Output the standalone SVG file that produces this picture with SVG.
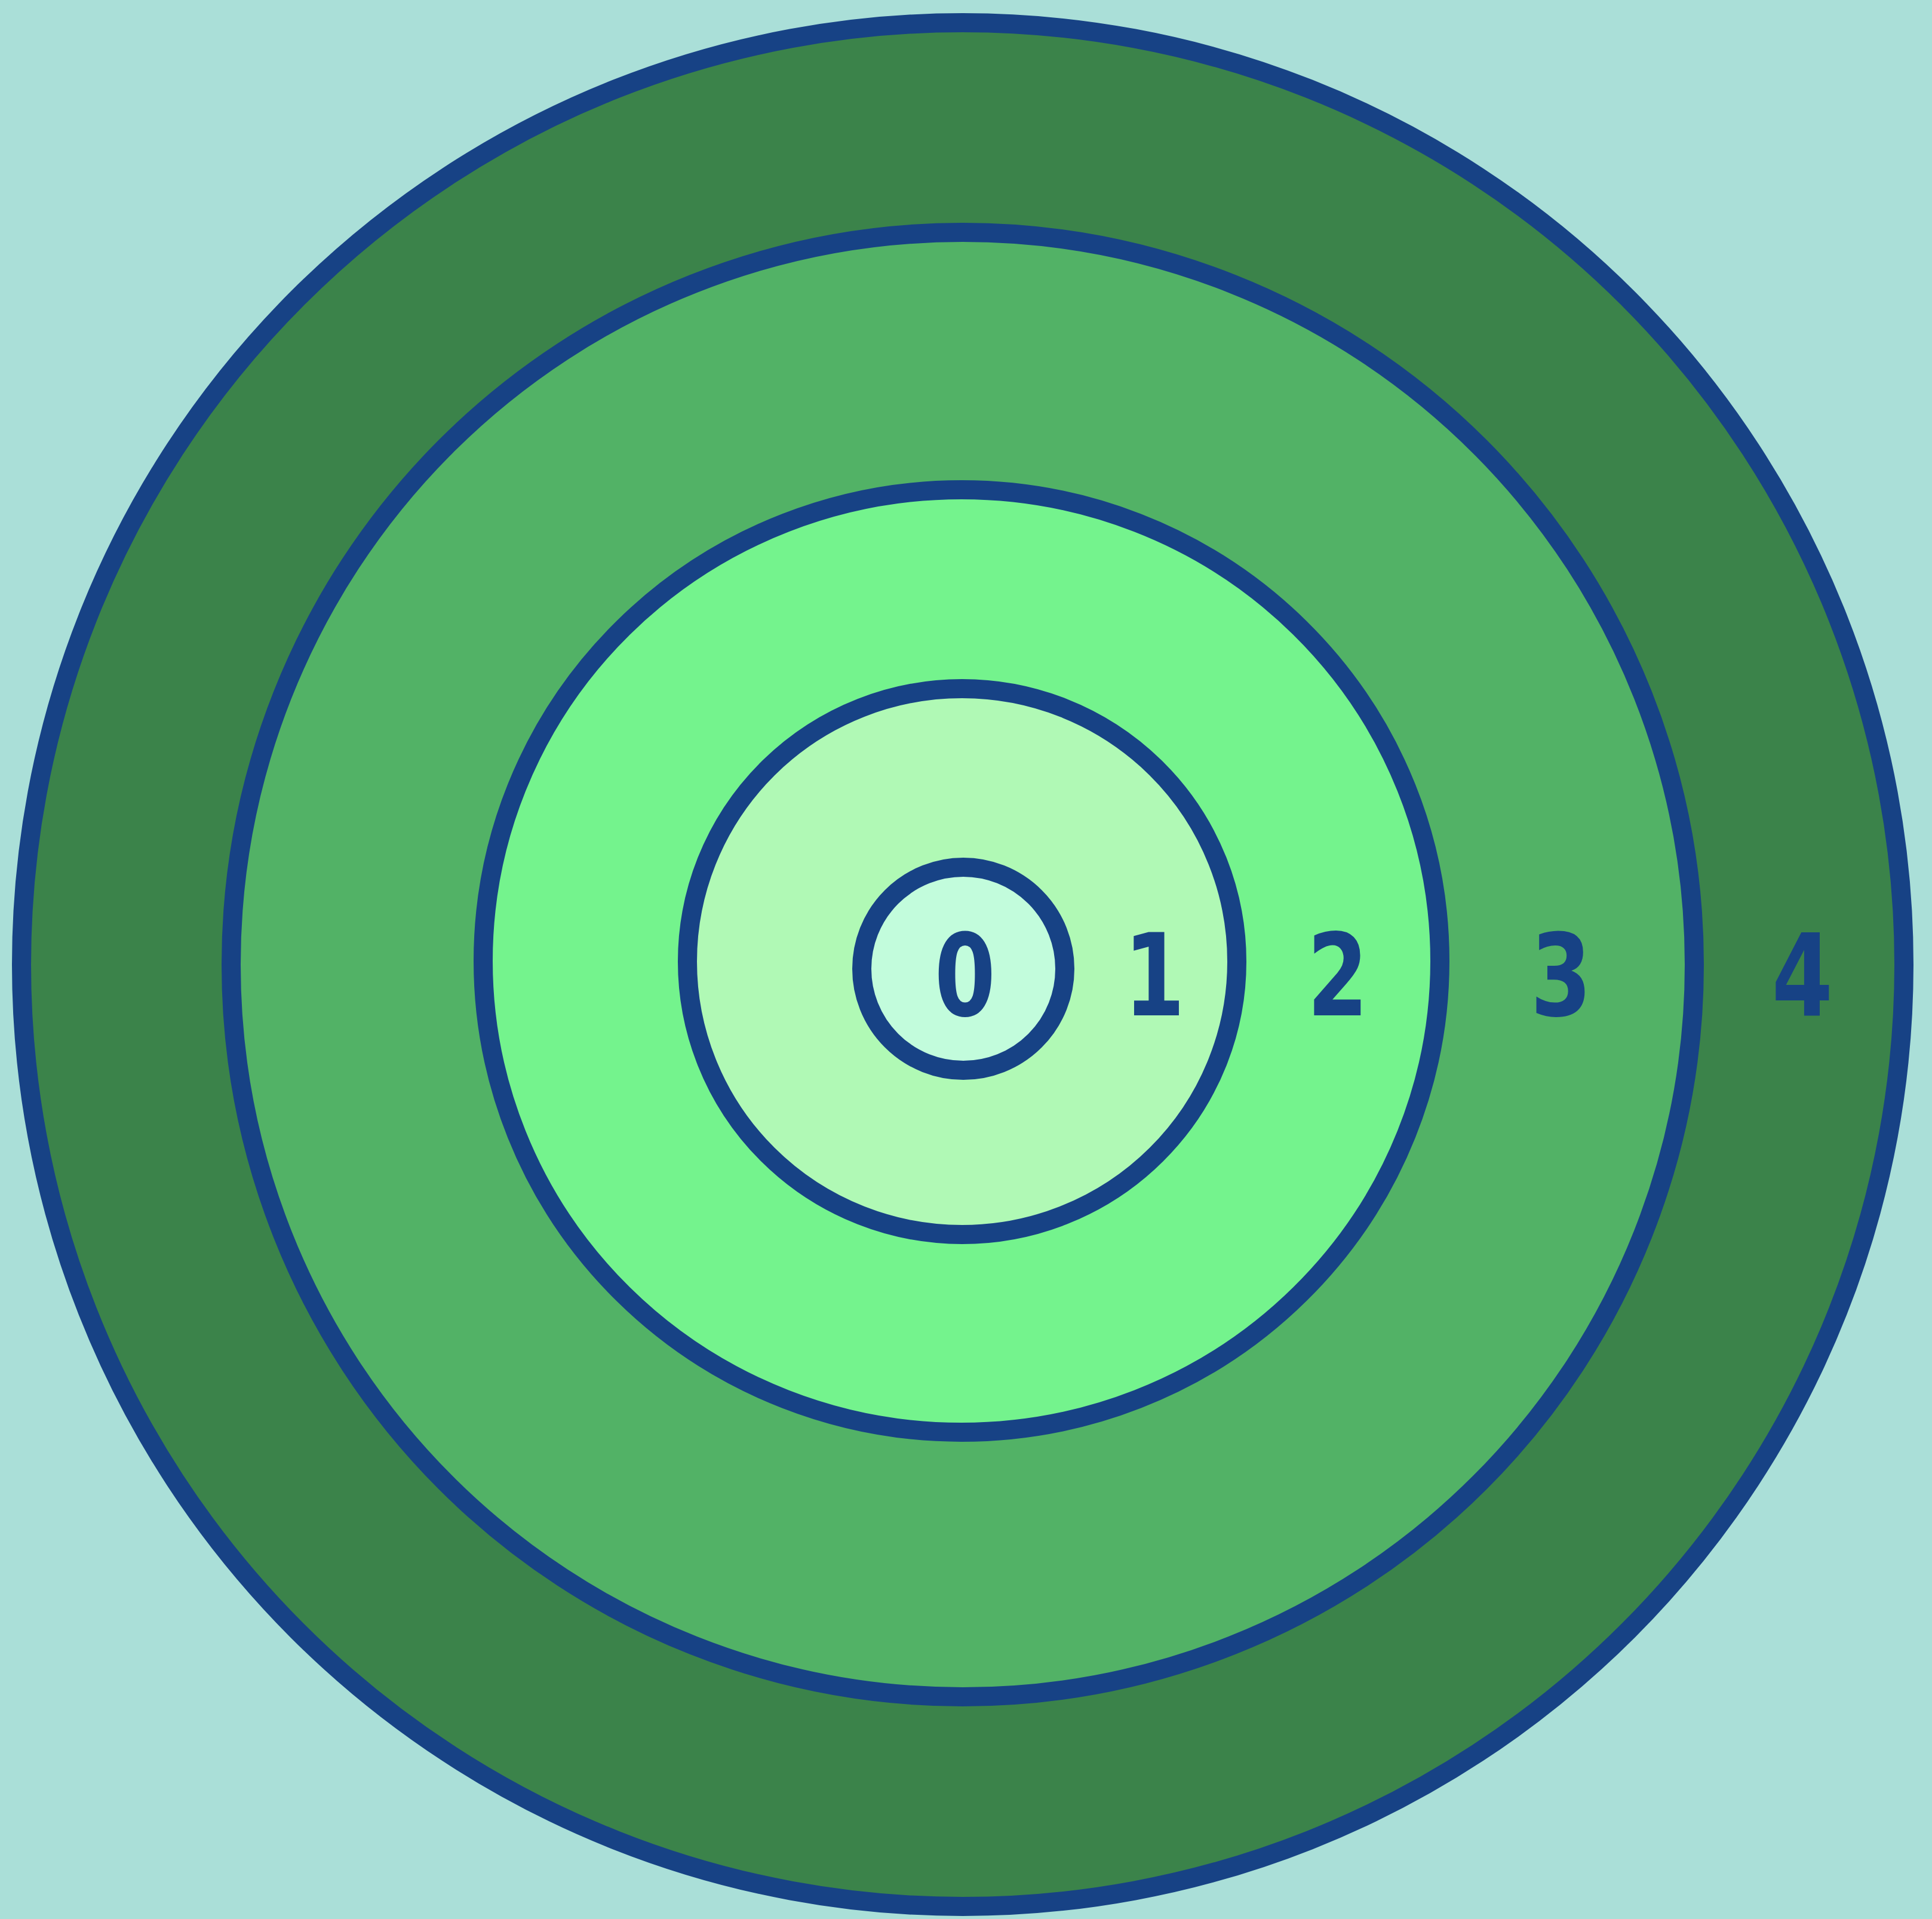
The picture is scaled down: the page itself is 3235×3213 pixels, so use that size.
<svg xmlns="http://www.w3.org/2000/svg" width="3235" height="3213" viewBox="0 0 3235 3213">
<style>
.ring{stroke:#174285;stroke-width:32}
.lbl{font-family:"DejaVu Sans Condensed","DejaVu Sans",sans-serif;font-weight:bold;font-size:190px;fill:#174285;text-anchor:middle}
</style>
<rect width="3235" height="3213" fill="#aadfd8"/>
<g id="ring4"><ellipse class="ring" cx="1612" cy="1615" rx="1576" ry="1577" fill="#3b834a"/></g>
<g id="ring3"><ellipse class="ring" cx="1612" cy="1615" rx="1225" ry="1226" fill="#52b266"/></g>
<g id="ring2"><ellipse class="ring" cx="1610" cy="1609" rx="801" ry="789" fill="#74f38d"/></g>
<g id="ring1"><ellipse class="ring" cx="1611" cy="1610" rx="460" ry="457" fill="#b0f9b5"/></g>
<g id="ring0"><ellipse class="ring" cx="1613" cy="1622" rx="170" ry="170" fill="#c2fcdc"/></g>
<g id="labels">
<text class="lbl" transform="translate(1616 1700) scale(0.86 1)">0</text>
<text class="lbl" transform="translate(1933 1700) scale(0.86 1)">1</text>
<text class="lbl" transform="translate(2240 1700) scale(0.86 1)">2</text>
<text class="lbl" transform="translate(2614 1700) scale(0.86 1)">3</text>
<text class="lbl" transform="translate(3018 1700) scale(0.86 1)">4</text>
</g>
</svg>
